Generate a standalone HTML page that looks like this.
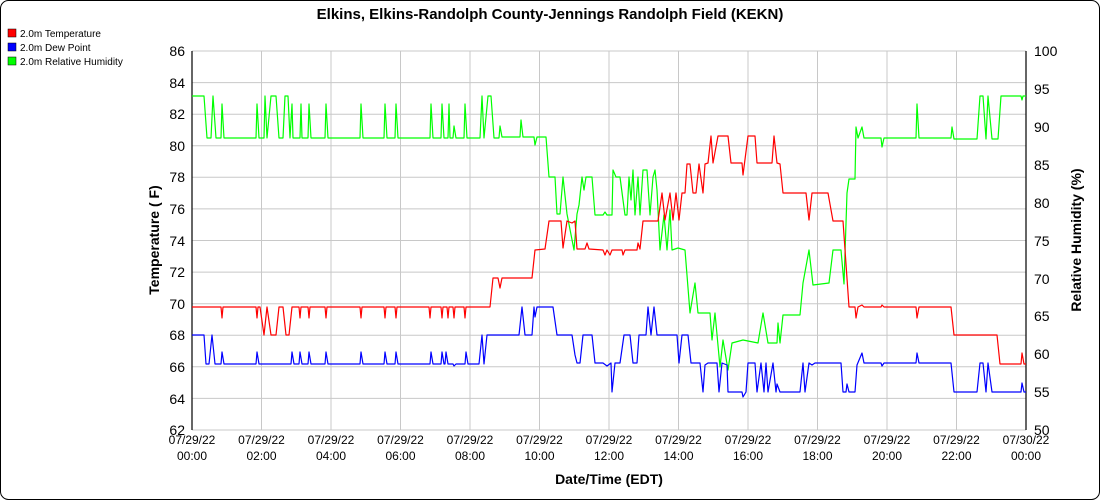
<!DOCTYPE html>
<html><head><meta charset="utf-8"><style>
html,body{margin:0;padding:0;background:#fff;}
svg{display:block;font-family:"Liberation Sans",sans-serif;}
</style></head><body>
<svg width="1100" height="500" viewBox="0 0 1100 500" xmlns="http://www.w3.org/2000/svg">
<rect x="0.5" y="0.5" width="1099" height="499" rx="8" fill="#fff" stroke="#000"/>
<text x="550" y="19" text-anchor="middle" font-size="15" font-weight="bold">Elkins, Elkins-Randolph County-Jennings Randolph Field (KEKN)</text>
<g font-size="10">
<rect x="8" y="29" width="8" height="8" fill="#f00" stroke="#000" stroke-width="0.5"/><text x="20" y="37">2.0m Temperature</text>
<rect x="8" y="43" width="8" height="8" fill="#00f" stroke="#000" stroke-width="0.5"/><text x="20" y="51">2.0m Dew Point</text>
<rect x="8" y="57" width="8" height="8" fill="#0f0" stroke="#000" stroke-width="0.5"/><text x="20" y="65">2.0m Relative Humidity</text>
</g>
<g stroke="#c8c8c8" stroke-width="1">
<line x1="192" y1="51" x2="1026" y2="51"/><line x1="192" y1="82.6" x2="1026" y2="82.6"/><line x1="192" y1="114.2" x2="1026" y2="114.2"/><line x1="192" y1="145.7" x2="1026" y2="145.7"/><line x1="192" y1="177.3" x2="1026" y2="177.3"/><line x1="192" y1="208.9" x2="1026" y2="208.9"/><line x1="192" y1="240.5" x2="1026" y2="240.5"/><line x1="192" y1="272.1" x2="1026" y2="272.1"/><line x1="192" y1="303.7" x2="1026" y2="303.7"/><line x1="192" y1="335.3" x2="1026" y2="335.3"/><line x1="192" y1="366.8" x2="1026" y2="366.8"/><line x1="192" y1="398.4" x2="1026" y2="398.4"/><line x1="192" y1="430" x2="1026" y2="430"/>
<line x1="261.5" y1="51" x2="261.5" y2="430"/><line x1="331" y1="51" x2="331" y2="430"/><line x1="400.5" y1="51" x2="400.5" y2="430"/><line x1="470" y1="51" x2="470" y2="430"/><line x1="539.5" y1="51" x2="539.5" y2="430"/><line x1="609" y1="51" x2="609" y2="430"/><line x1="678.5" y1="51" x2="678.5" y2="430"/><line x1="748" y1="51" x2="748" y2="430"/><line x1="817.5" y1="51" x2="817.5" y2="430"/><line x1="887" y1="51" x2="887" y2="430"/><line x1="956.5" y1="51" x2="956.5" y2="430"/>
</g>
<g stroke="#000" stroke-width="1.2">
<line x1="192" y1="51" x2="192" y2="430"/><line x1="1026" y1="51" x2="1026" y2="430"/>
</g>
<g font-size="14" text-anchor="end">
<text x="185" y="56">86</text><text x="185" y="88">84</text><text x="185" y="119">82</text><text x="185" y="151">80</text><text x="185" y="182">78</text><text x="185" y="214">76</text><text x="185" y="246">74</text><text x="185" y="277">72</text><text x="185" y="309">70</text><text x="185" y="340">68</text><text x="185" y="372">66</text><text x="185" y="404">64</text><text x="185" y="435">62</text>
</g>
<g font-size="14">
<text x="1034" y="56">100</text><text x="1034" y="94">95</text><text x="1034" y="132">90</text><text x="1034" y="170">85</text><text x="1034" y="208">80</text><text x="1034" y="246">75</text><text x="1034" y="284">70</text><text x="1034" y="321">65</text><text x="1034" y="359">60</text><text x="1034" y="397">55</text><text x="1034" y="435">50</text>
</g>
<text transform="translate(159,240) rotate(-90)" text-anchor="middle" font-size="14" font-weight="bold">Temperature ( F)</text>
<text transform="translate(1081,240) rotate(-90)" text-anchor="middle" font-size="14" font-weight="bold">Relative Humidity (%)</text>
<g font-size="12" text-anchor="middle">
<text x="192" y="444">07/29/22</text><text x="192" y="460">00:00</text>
<text x="261.5" y="444">07/29/22</text><text x="261.5" y="460">02:00</text>
<text x="331" y="444">07/29/22</text><text x="331" y="460">04:00</text>
<text x="400.5" y="444">07/29/22</text><text x="400.5" y="460">06:00</text>
<text x="470" y="444">07/29/22</text><text x="470" y="460">08:00</text>
<text x="539.5" y="444">07/29/22</text><text x="539.5" y="460">10:00</text>
<text x="609" y="444">07/29/22</text><text x="609" y="460">12:00</text>
<text x="678.5" y="444">07/29/22</text><text x="678.5" y="460">14:00</text>
<text x="748" y="444">07/29/22</text><text x="748" y="460">16:00</text>
<text x="817.5" y="444">07/29/22</text><text x="817.5" y="460">18:00</text>
<text x="887" y="444">07/29/22</text><text x="887" y="460">20:00</text>
<text x="956.5" y="444">07/29/22</text><text x="956.5" y="460">22:00</text>
<text x="1026" y="444">07/30/22</text><text x="1026" y="460">00:00</text>
</g>
<text x="609" y="484" text-anchor="middle" font-size="14" font-weight="bold">Date/Time (EDT)</text>
<g fill="none" stroke-width="1.2" stroke-linejoin="round">
<polyline stroke="#00ff00" points="192,96 204,96 207,138 211,138 213,96 216,138 221,138 222,104 224,138 256,138 257,104 259,138 264,138 265,96 267,138 271,96 276,96 279,138 283,138 285,96 288,96 290,138 292,104 293,138 300,138 301,104 302,138 308,138 309,104 311,138 325,138 326,104 328,138 360,138 361,104 363,138 384,138 385,104 387,138 395,138 396,104 398,138 430,138 431,104 433,138 441,138 442,104 444,138 448,138 449,104 450,138 453,138 454,126 456,138 464,138 465,104 467,138 480,138 482,96 484,138 488,96 491,96 494,138 499,138 500,126 502,137 520,137 521,120 523,137 534,137 535,145 537,137 546,137 549,177 555,177 557,214 560,214 563,177 567,214 574,250 577,214 579,205 582,177 584,190 586,177 592,177 595,215 603,215 605,212 607,215 612,215 613,170 616,177 620,177 623,200 625,215 627,215 629,177 631,200 633,170 635,215 638,177 640,215 643,170 647,170 650,215 653,177 655,170 657,190 660,250 664,215 667,250 670,210 672,250 678,248 685,250 690,313 695,283 698,313 710,313 712,340 715,313 720,367 723,340 728,370 732,343 743,340 758,343 763,313 768,343 777,343 778,323 780,343 783,315 800,315 803,283 809,250 813,285 829,283 833,250 841,250 844,284 847,193 849,179 855,179 856,127 858,138 862,127 864,138 881,138 882,147 884,138 916,138 917,104 919,138 951,138 952,127 954,139 977,139 980,96 983,96 986,139 988,96 992,139 998,139 1001,96 1021,96 1022,100 1023,96 1026,96"/>
<polyline stroke="#0000ff" points="192,335 204,335 206,364 209,364 212,335 215,364 221,364 222,352 224,364 256,364 257,352 259,364 291,364 292,352 294,364 299,364 300,352 302,364 308,364 309,352 311,364 325,364 326,352 328,364 360,364 361,352 363,364 384,364 385,352 387,364 395,364 396,352 398,364 430,364 431,352 433,364 441,364 442,352 444,364 445,364 446,352 448,364 453,364 454,366 456,364 465,364 466,352 468,364 479,364 482,335 484,364 487,335 519,335 522,307 525,335 532,335 534,307 535,317 537,307 553,307 557,335 572,335 575,355 577,363 580,363 583,335 592,335 595,363 603,363 607,366 611,363 612,392 615,363 620,363 624,335 630,335 633,363 637,363 639,335 646,335 648,307 651,335 654,307 657,335 677,335 679,363 682,335 688,335 691,363 700,363 703,392 705,365 708,363 717,363 719,392 722,363 727,365 728,392 742,392 743,397 746,392 748,363 755,363 757,392 761,363 764,392 766,363 768,392 773,363 776,392 777,384 780,392 800,392 803,363 805,392 809,363 812,365 815,363 841,363 843,392 846,392 847,384 849,392 855,392 857,365 862,353 864,363 881,363 882,366 884,363 916,363 917,353 919,363 951,363 954,392 977,392 980,363 983,363 986,392 988,363 992,392 1021,392 1022,383 1024,392 1026,392"/>
<polyline stroke="#ff0000" points="192,307 221,307 222,318 223,307 256,307 257,318 258,307 260,307 264,335 267,307 271,335 276,335 279,307 283,307 286,335 289,335 292,307 299,307 300,318 301,307 308,307 309,318 310,307 325,307 326,318 327,307 360,307 361,318 362,307 384,307 385,318 386,307 395,307 396,318 397,307 429,307 430,318 431,307 441,307 442,318 443,307 447,307 448,318 449,307 453,307 454,318 455,307 464,307 465,318 466,307 490,307 493,278 498,278 500,288 502,278 532,278 535,250 545,249 549,221 561,221 563,248 567,221 572,223 575,221 577,249 585,249 587,243 589,249 603,250 605,255 607,250 610,255 612,250 622,250 623,255 625,250 637,250 638,243 640,249 643,221 658,221 662,193 665,220 670,193 673,220 676,193 679,220 682,193 685,193 687,164 690,164 693,193 696,193 699,164 703,193 705,164 708,163 711,136 713,163 718,136 728,136 731,163 742,163 743,175 748,136 755,136 757,163 772,163 774,136 777,163 780,164 783,193 806,193 809,220 812,193 828,193 833,221 843,221 849,307 855,307 856,318 858,307 862,305 864,307 881,307 882,305 884,307 916,307 917,318 919,307 951,307 954,335 997,335 1000,364 1021,364 1022,353 1024,364 1026,364"/>
</g>
</svg>
</body></html>
